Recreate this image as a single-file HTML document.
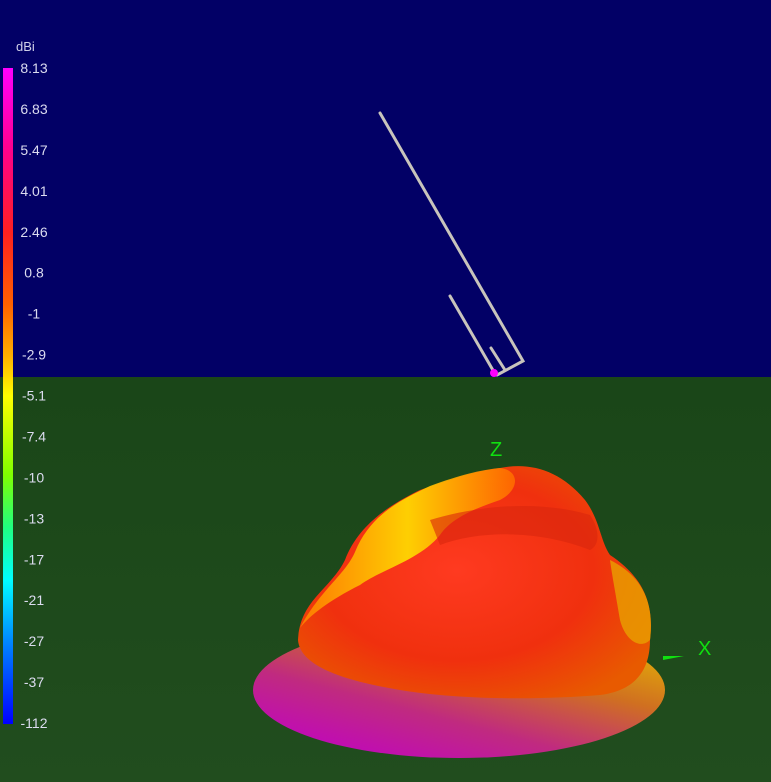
<!DOCTYPE html>
<html><head><meta charset="utf-8"><style>
html,body{margin:0;padding:0;width:771px;height:782px;overflow:hidden;background:#020066}
svg{display:block}
text{font-family:"Liberation Sans",sans-serif}
</style></head><body>
<svg id="s" width="771" height="782" viewBox="0 0 771 782">
<defs>
<linearGradient id="cbar" x1="0" y1="0" x2="0" y2="1">
<stop offset="0" stop-color="#ff00ff"/><stop offset="0.12" stop-color="#ff0090"/>
<stop offset="0.25" stop-color="#ff2020"/><stop offset="0.36" stop-color="#ff6000"/>
<stop offset="0.44" stop-color="#ffb000"/><stop offset="0.5" stop-color="#ffff00"/>
<stop offset="0.62" stop-color="#80ff00"/><stop offset="0.7" stop-color="#20ff80"/>
<stop offset="0.78" stop-color="#00ffff"/><stop offset="0.88" stop-color="#0080ff"/>
<stop offset="1" stop-color="#0000ff"/></linearGradient>
<linearGradient id="ground" x1="0" y1="0" x2="0" y2="1">
<stop offset="0" stop-color="#1a4618"/><stop offset="1" stop-color="#214d1e"/></linearGradient>
<linearGradient id="base" x1="0.1" y1="1" x2="0.9" y2="0">
<stop offset="0" stop-color="#c000c8"/><stop offset="0.35" stop-color="#c02a80"/>
<stop offset="0.65" stop-color="#d07020"/><stop offset="1" stop-color="#e8c000"/></linearGradient>
<radialGradient id="body" cx="0.45" cy="0.45" r="0.65">
<stop offset="0" stop-color="#ff3a20"/><stop offset="0.6" stop-color="#f0300e"/>
<stop offset="1" stop-color="#e85a00"/></radialGradient>
<linearGradient id="ridge" x1="0" y1="0" x2="1" y2="0">
<stop offset="0" stop-color="#ff8000"/><stop offset="0.5" stop-color="#ffe000"/><stop offset="1" stop-color="#ff6a00"/></linearGradient>
</defs>
<rect x="0" y="0" width="771" height="378" fill="#020066"/>
<rect x="0" y="377" width="771" height="405" fill="url(#ground)"/>
<g stroke="#c8c4bc" stroke-width="3" fill="none" stroke-linecap="round">
<polyline points="380,113 523,361 497,375"/>
<line x1="450" y1="296" x2="494" y2="372"/>
<line x1="491" y1="348" x2="505" y2="370"/>
</g>
<circle cx="494" cy="373" r="4" fill="#ff00ff"/>
<g>
<ellipse cx="459" cy="690" rx="206" ry="68" fill="url(#base)"/>
<path d="M298,640 C300,600 330,590 345,560 C360,520 400,500 420,490 C450,480 470,472 500,468 C530,462 560,470 585,500 C600,520 600,540 610,555 C640,575 655,600 650,640 C650,665 640,690 600,695 C540,700 460,700 400,690 C340,680 300,665 298,640 Z" fill="url(#body)"/>
<path d="M300,628 C320,590 345,575 355,552 C370,515 400,500 430,486 C460,475 480,470 500,468 C520,470 520,490 500,500 C470,510 450,520 440,535 C420,560 380,570 360,585 C330,600 310,615 300,628 Z" fill="url(#ridge)" opacity="0.9"/>
<path d="M430,520 C480,505 540,500 590,515 C600,530 600,545 590,550 C540,530 480,530 440,545 Z" fill="#d8260e" opacity="0.6"/>
<path d="M610,560 C640,575 655,600 650,640 C640,650 625,640 620,620 C615,590 612,575 610,560 Z" fill="#e8a000" opacity="0.8"/>
</g>
<text x="490" y="456" font-size="20" fill="#10e010">Z</text>
<polygon points="663,656 684,656 663,660" fill="#10e010"/>
<text x="698" y="655" font-size="20" fill="#10e010">X</text>
<text x="16" y="51" font-size="13" fill="#d0d0e8">dBi</text>
<rect x="3" y="68" width="10" height="656" fill="url(#cbar)"/>
<g id="ticks"></g>
</svg>
<script>
const tickLabels=["8.13","6.83","5.47","4.01","2.46","0.8","-1","-2.9","-5.1","-7.4","-10","-13","-17","-21","-27","-37","-112"];
(function(){
 const g=document.getElementById('ticks');
 const y0=68,y1=723;
 tickLabels.forEach((t,i)=>{
  const y=y0+(y1-y0)*i/(tickLabels.length-1);
  const el=document.createElementNS('http://www.w3.org/2000/svg','text');
  el.setAttribute('x','34');el.setAttribute('y',(y+5).toFixed(1));
  el.setAttribute('text-anchor','middle');el.setAttribute('font-size','14');
  el.setAttribute('fill','#dcdcf0');
  
  
  el.textContent=t;g.appendChild(el);
 });
})();
</script>
</body></html>
